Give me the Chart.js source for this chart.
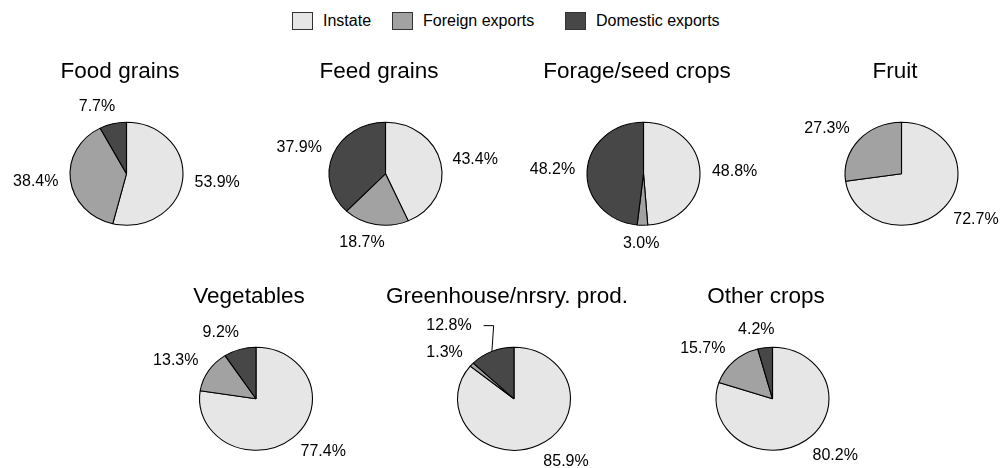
<!DOCTYPE html>
<html>
<head>
<meta charset="utf-8">
<title>Crop sales by destination</title>
<script src="https://cdn.jsdelivr.net/npm/chart.js@4.4.1/dist/chart.umd.min.js"></script>
<style>
  html, body { margin: 0; padding: 0; background: #fff; }
  body {
    width: 1005px;
    height: 468px;
    position: relative;
    overflow: hidden;
    font-family: "Liberation Sans", Arial, sans-serif;
  }
  .legend-item {
    position: absolute;
    top: 12px;
    height: 18px;
    display: flex;
    align-items: center;
    font-size: 16px;
    color: #000;
    white-space: nowrap;
  }
  .legend-box {
    width: 21px;
    height: 18px;
    box-sizing: border-box;
    border: 1px solid #333;
    margin-right: 10px;
  }
  canvas.pie { position: absolute; }
</style>
</head>
<body>
<div id="legend"></div>
<script>
// Share of each crop group's sales by destination (%)
const categories = ["Instate", "Foreign exports", "Domestic exports"];
const crops = ["Food grains", "Feed grains", "Forage/seed crops", "Fruit",
               "Vegetables", "Greenhouse/nrsry. prod.", "Other crops"];
const instate = [53.9, 43.4, 48.8, 72.7, 77.4, 85.9, 80.2];
const foreignExports = [38.4, 18.7, 3.0, 27.3, 13.3, 1.3, 15.7];
const domesticExports = [7.7, 37.9, 48.2, 0, 9.2, 12.8, 4.2];

const colors = ["#e6e6e6", "#a2a2a2", "#474747"];

// where each pie sits on the page
const pieX = [126.5, 385.5, 643.5, 901.5, 256, 514, 772.5];
const pieY = [173.5, 173.5, 173.5, 173.5, 399, 399, 399];
const CANVAS_W = 260;
const CANVAS_H = 214;
const TITLE_OFFSET = 7;   // titles sit a little left of the pie centre
const STRETCH = 1.097;    // pies are drawn slightly wider than tall
const FONT = '"Liberation Sans", Arial, sans-serif';

// legend
const legendLeft = [292, 392, 565];
const legend = document.getElementById("legend");
categories.forEach((name, i) => {
  const item = document.createElement("div");
  item.className = "legend-item";
  item.style.left = legendLeft[i] + "px";
  const box = document.createElement("span");
  box.className = "legend-box";
  box.style.background = colors[i];
  item.appendChild(box);
  item.appendChild(document.createTextNode(name));
  legend.appendChild(item);
});

// squash the arcs into an ellipse, then write the percentages around it
const ellipseLabels = {
  id: "ellipseLabels",
  beforeDatasetsDraw(chart, args, opts) {
    const arc = chart.getDatasetMeta(0).data[0];
    const ctx = chart.ctx;
    ctx.save();
    ctx.translate(arc.x + opts.shift, arc.y);
    ctx.scale(STRETCH, 1);
    ctx.translate(-arc.x, -arc.y);
  },
  afterDatasetsDraw(chart, args, opts) {
    const ctx = chart.ctx;
    ctx.restore();

    const meta = chart.getDatasetMeta(0);
    const values = chart.data.datasets[0].data;
    const cx = meta.data[0].x + opts.shift;
    const cy = meta.data[0].y;
    const ry = meta.data[0].outerRadius;
    const rx = ry * STRETCH;
    const h = 16;

    ctx.save();
    ctx.font = "16px " + FONT;
    ctx.fillStyle = "#000";
    ctx.strokeStyle = "#000";
    ctx.lineWidth = 1;
    ctx.textAlign = "center";
    ctx.textBaseline = "middle";

    const placed = [];
    meta.data.forEach((arc, i) => {
      if (!values[i]) return;
      const a = (arc.startAngle + arc.endAngle) / 2;
      const c = Math.cos(a);
      const s = Math.sin(a);
      const text = values[i].toFixed(1) + "%";
      const w = ctx.measureText(text).width;
      let x = cx + (rx + 12) * c + (w / 2) * Math.max(-1, Math.min(1, 3 * c));
      let y = cy + (ry + 18) * s;
      let leader = false;

      // move a crowded label away from its neighbour and tie it back with a line
      placed.forEach((p) => {
        if (Math.abs(x - p.x) < (w + p.w) / 2 + 6 && Math.abs(y - p.y) < h + 6) {
          y = p.y + (y < cy ? -1 : 1) * (h + 11);
          x = c < 0 ? p.x - p.w / 2 + w / 2 : p.x + p.w / 2 - w / 2;
          leader = true;
        }
      });

      ctx.fillText(text, x, y);
      placed.push({ x, y, w });

      if (leader) {
        const side = c < 0 ? 1 : -1;
        const sx = x + side * (w / 2 + 12);
        ctx.beginPath();
        ctx.moveTo(sx, y);
        ctx.lineTo(sx + side * 10, y);
        ctx.lineTo(cx + rx * c, cy + ry * s);
        ctx.stroke();
      }
    });
    ctx.restore();
  }
};

crops.forEach((name, k) => {
  const left = Math.round(pieX[k] - TITLE_OFFSET - CANVAS_W / 2);
  const top = Math.round(pieY[k] - 125.75);
  const canvas = document.createElement("canvas");
  canvas.className = "pie";
  canvas.width = CANVAS_W;
  canvas.height = CANVAS_H;
  canvas.style.left = left + "px";
  canvas.style.top = top + "px";
  document.body.appendChild(canvas);

  new Chart(canvas.getContext("2d"), {
    type: "pie",
    data: {
      labels: categories,
      datasets: [{
        data: [instate[k], foreignExports[k], domesticExports[k]],
        backgroundColor: colors,
        borderColor: "#000",
        borderWidth: 1,
        radius: 51.5
      }]
    },
    options: {
      responsive: false,
      animation: false,
      events: [],
      layout: { padding: 0 },
      plugins: {
        legend: { display: false },
        tooltip: { enabled: false },
        title: {
          display: true,
          text: name,
          color: "#000",
          font: { family: FONT, size: 22.5, weight: "normal" },
          padding: { top: 10.5, bottom: 0 }
        },
        ellipseLabels: { shift: pieX[k] - (left + CANVAS_W / 2) }
      }
    },
    plugins: [ellipseLabels]
  });
});
</script>
</body>
</html>
